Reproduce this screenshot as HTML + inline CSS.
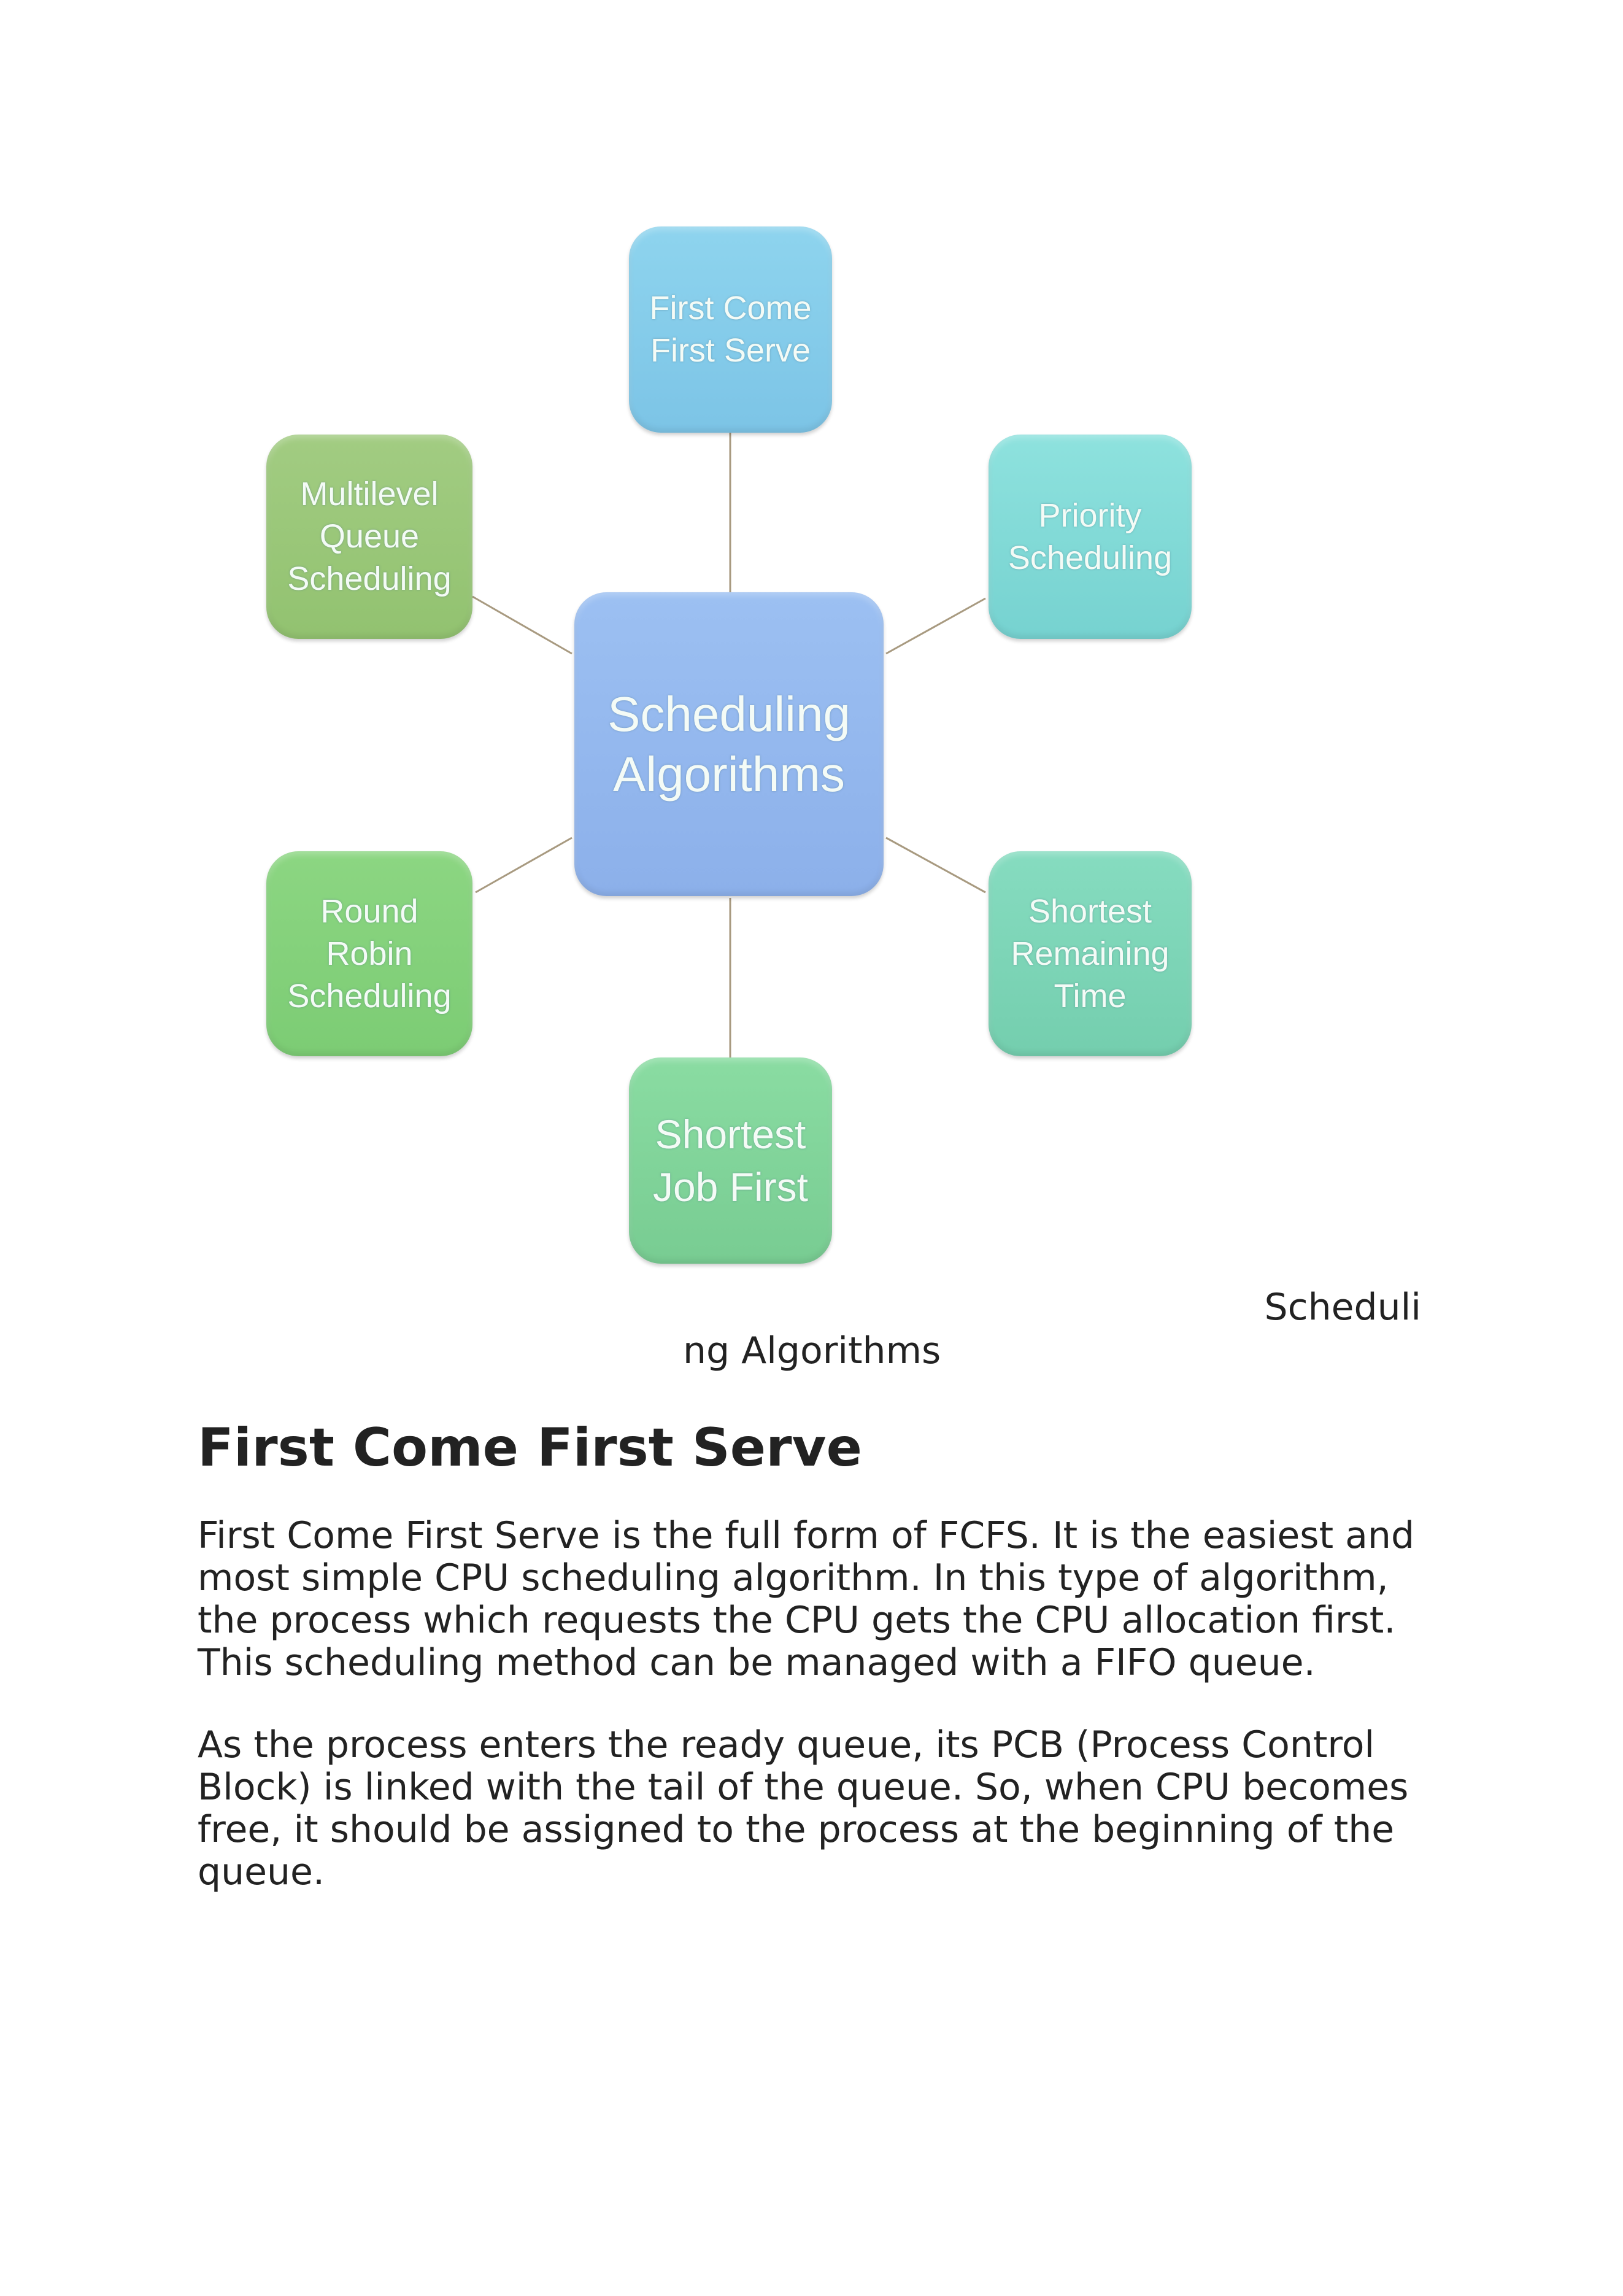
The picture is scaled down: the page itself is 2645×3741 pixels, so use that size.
<!DOCTYPE html>
<html><head><meta charset="utf-8"><style>
html,body{margin:0;padding:0;background:#fff;}
body{width:2645px;height:3741px;position:relative;overflow:hidden;font-family:"DejaVu Sans","Liberation Sans",sans-serif;color:#222;}
.n{position:absolute;border-radius:52px;display:flex;align-items:center;justify-content:center;text-align:center;color:#f4fbf6;font-family:"Liberation Sans",sans-serif;box-shadow:0 4px 6px rgba(0,0,0,0.18), inset 0 -6px 10px rgba(0,0,0,0.08), inset 0 6px 10px rgba(255,255,255,0.25);text-shadow:0 0 3px rgba(80,120,140,0.5);}
.s{font-size:54px;line-height:69px;}
.t{position:absolute;white-space:nowrap;font-size:60px;}
</style></head><body>
<svg width="2645" height="2100" style="position:absolute;left:0;top:0">
<g stroke="#a89a80" stroke-width="3">
<line x1="1190" y1="705" x2="1190" y2="965"/>
<line x1="1190" y1="1463" x2="1190" y2="1723"/>
<line x1="770" y1="972" x2="932" y2="1065"/>
<line x1="1444" y1="1065" x2="1606" y2="975"/>
<line x1="775" y1="1454" x2="932" y2="1365"/>
<line x1="1444" y1="1365" x2="1606" y2="1454"/>
</g></svg>
<div class="n s" style="left:1025px;top:369px;width:331px;height:336px;background:linear-gradient(#8ed4ee,#7cc4e6);">First Come<br>First Serve</div>
<div class="n s" style="left:1611px;top:708px;width:331px;height:333px;background:linear-gradient(#8ee2de,#76d2d0);">Priority<br>Scheduling</div>
<div class="n s" style="left:434px;top:708px;width:336px;height:333px;background:linear-gradient(#a2cc82,#92c270);">Multilevel<br>Queue<br>Scheduling</div>
<div class="n" style="left:936px;top:965px;width:504px;height:495px;background:linear-gradient(#9cc0f2,#8cb0ea);font-size:80px;line-height:98px;">Scheduling<br>Algorithms</div>
<div class="n s" style="left:434px;top:1387px;width:336px;height:334px;background:linear-gradient(#8cd682,#7ccc74);">Round<br>Robin<br>Scheduling</div>
<div class="n s" style="left:1611px;top:1387px;width:331px;height:334px;background:linear-gradient(#86dcc0,#74ceae);">Shortest<br>Remaining<br>Time</div>
<div class="n" style="left:1025px;top:1723px;width:331px;height:336px;background:linear-gradient(#8adca2,#78cc92);font-size:66px;line-height:86px;">Shortest<br>Job First</div>
<div class="t" style="right:329px;top:2095px;">Scheduli</div>
<div class="t" style="left:1113px;top:2166px;">ng Algorithms</div>
<div class="t" style="left:322px;top:2309px;font-size:86px;font-weight:bold;">First Come First Serve</div>
<div class="t" style="left:322px;top:2468px;line-height:69px;">First Come First Serve is the full form of FCFS. It is the easiest and<br>most simple CPU scheduling algorithm. In this type of algorithm,<br>the process which requests the CPU gets the CPU allocation first.<br>This scheduling method can be managed with a FIFO queue.</div>
<div class="t" style="left:322px;top:2809px;line-height:69px;">As the process enters the ready queue, its PCB (Process Control<br>Block) is linked with the tail of the queue. So, when CPU becomes<br>free, it should be assigned to the process at the beginning of the<br>queue.</div>
</body></html>
